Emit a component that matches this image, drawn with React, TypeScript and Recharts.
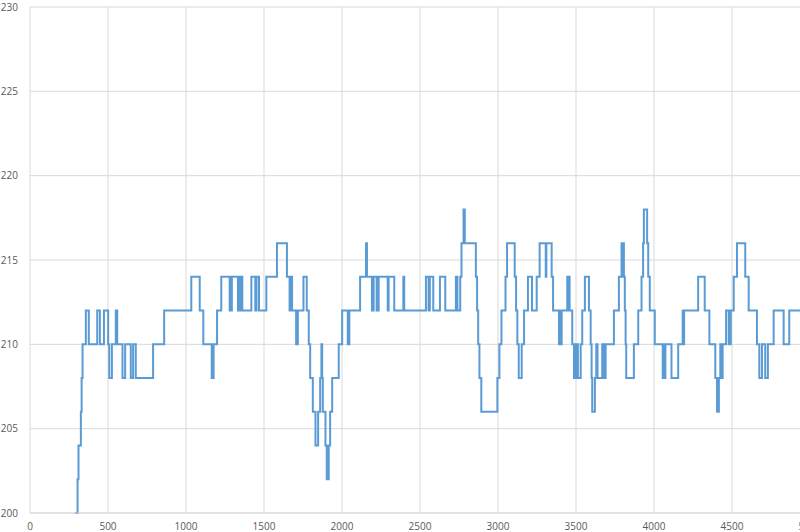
import React from 'react';
import { LineChart, Line, XAxis, YAxis, CartesianGrid } from 'recharts';

// change points of the step series (x position, level held until next point)
const stepX = [
  288, 305, 311, 326, 331, 337, 358, 377, 431, 448, 474, 501, 508, 525, 550, 559,
  593, 610, 646, 661, 678, 789, 860, 1034, 1088, 1111, 1165, 1177, 1199, 1226,
  1280, 1284, 1290, 1294, 1333, 1337, 1345, 1350, 1361, 1419, 1444, 1452, 1468,
  1515, 1583, 1647, 1664, 1668, 1672, 1676, 1680, 1706, 1717, 1753, 1774, 1787,
  1796, 1813, 1830, 1847, 1860, 1868, 1873, 1877, 1894, 1902, 1915, 1924, 1937,
  1979, 2001, 2037, 2047, 2116, 2154, 2160, 2192, 2203, 2222, 2235, 2293, 2299,
  2335, 2393, 2399, 2538, 2555, 2563, 2585, 2628, 2662, 2730, 2740, 2758, 2766,
  2779, 2787, 2858, 2866, 2873, 2881, 2893, 2996, 3009, 3022, 3048, 3058, 3107,
  3116, 3124, 3133, 3152, 3167, 3192, 3218, 3248, 3267, 3306, 3310, 3344, 3353,
  3391, 3396, 3400, 3408, 3444, 3448, 3452, 3459, 3476, 3487, 3498, 3502, 3508,
  3512, 3530, 3540, 3557, 3583, 3594, 3600, 3604, 3621, 3630, 3638, 3668, 3672,
  3678, 3682, 3690, 3743, 3775, 3792, 3796, 3800, 3807, 3813, 3818, 3822, 3871,
  3899, 3920, 3930, 3935, 3956, 3963, 3973, 4005, 4056, 4060, 4064, 4073, 4112,
  4155, 4184, 4188, 4193, 4283, 4325, 4355, 4393, 4404, 4416, 4425, 4428, 4434,
  4437, 4440, 4462, 4479, 4483, 4487, 4492, 4511, 4532, 4585, 4607, 4660, 4675,
  4692, 4713, 4730, 4767, 4831, 4867, 5000,
];

const stepY = [
  200, 202, 204, 206, 208, 210, 212, 210, 212, 210, 212, 210, 208, 210, 212, 210,
  208, 210, 208, 210, 208, 210, 212, 214, 212, 210, 208, 210, 212, 214,
  212, 214, 212, 214, 212, 214, 212, 214, 212, 214, 212, 214, 212,
  214, 216, 214, 212, 214, 212, 214, 212, 210, 212, 214, 212, 210,
  208, 206, 204, 206, 208, 210, 208, 206, 204, 202, 204, 206, 208,
  210, 212, 210, 212, 214, 216, 214, 212, 214, 212, 214, 212, 214,
  212, 214, 212, 214, 212, 214, 212, 214, 212, 214, 212, 214, 216,
  218, 216, 214, 212, 210, 208, 206, 208, 210, 212, 214, 216, 214,
  212, 210, 208, 210, 212, 214, 212, 214, 216, 214, 216, 214, 212,
  210, 212, 210, 212, 214, 212, 214, 212, 210, 208, 210, 208, 210,
  208, 210, 212, 214, 212, 210, 208, 206, 208, 210, 208, 210, 208,
  210, 208, 210, 212, 214, 216, 214, 216, 214, 212, 210, 208, 210,
  212, 214, 216, 218, 216, 214, 212, 210, 208, 210, 208, 210, 208,
  210, 212, 210, 212, 214, 212, 210, 208, 206, 208, 210, 208, 210,
  208, 210, 212, 210, 212, 210, 212, 214, 216, 214, 212, 210, 208,
  210, 208, 210, 212, 210, 212, 212,
];

const xTicks = [0, 500, 1000, 1500, 2000, 2500, 3000, 3500, 4000, 4500, 5000];
const yTicks = [200, 205, 210, 215, 220, 225, 230];

const data = stepX.map((x, i) => ({ x, y: stepY[i] }));

const tickStyle = { fill: '#595959', fontSize: 10, fontFamily: '"Open Sans", sans-serif' };

export default function App() {
  return (
    <div
      style={{
        position: 'absolute',
        left: 0,
        top: 0,
        width: 800,
        height: 532,
        overflow: 'hidden',
        background: '#fff',
      }}
    >
      <LineChart width={830} height={532} data={data} margin={{ top: 7, right: 20, left: 0, bottom: 0 }}>
        <CartesianGrid stroke="#d9d9d9" />
        <XAxis
          dataKey="x"
          type="number"
          domain={[0, 5000]}
          ticks={xTicks}
          height={19}
          axisLine={{ stroke: '#d9d9d9' }}
          tickLine={false}
          tickSize={0}
          tickMargin={10}
          tick={tickStyle}
          interval={0}
        />
        <YAxis
          type="number"
          domain={[200, 230]}
          ticks={yTicks}
          width={30}
          axisLine={false}
          tickLine={false}
          tickSize={0}
          tickMargin={12}
          tick={tickStyle}
          interval={0}
        />
        <Line
          type="stepAfter"
          dataKey="y"
          stroke="#5b9bd5"
          strokeWidth={2}
          dot={false}
          isAnimationActive={false}
        />
      </LineChart>
    </div>
  );
}
